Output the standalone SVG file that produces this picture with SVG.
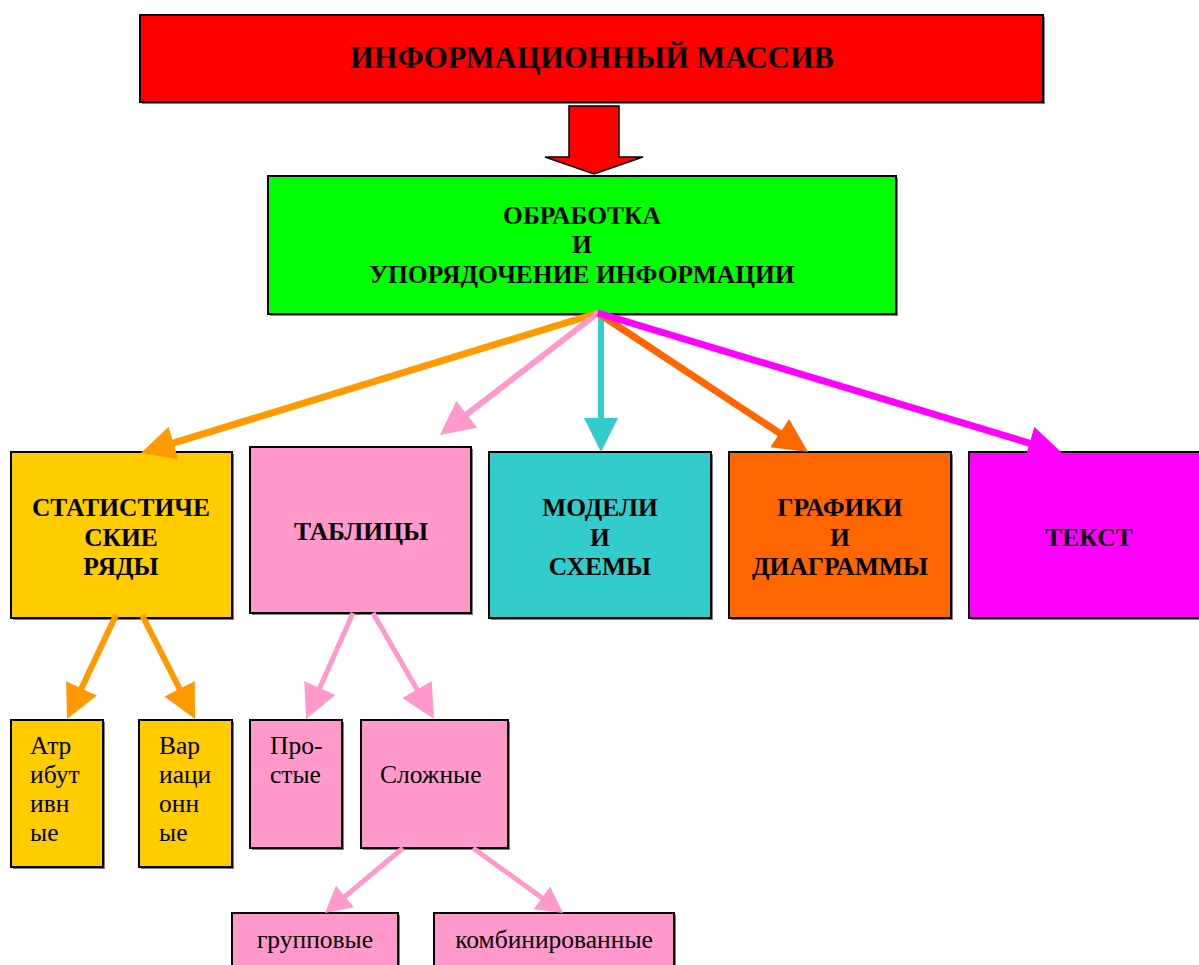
<svg xmlns="http://www.w3.org/2000/svg" width="1199" height="965" viewBox="0 0 1199 965">
<style>
.box{stroke:#000;stroke-width:2}
.sh{fill:#808080}
.tb{font-family:"Liberation Serif","Times New Roman",serif;font-weight:bold;font-size:25.5px;fill:#000;text-anchor:middle}
.tt{font-size:30.5px}
.tr{font-family:"Liberation Serif","Times New Roman",serif;font-size:25.5px;fill:#000}
.mid{text-anchor:middle}
.c line{fill:none}
</style>
<defs>
<marker id="mOr" markerUnits="userSpaceOnUse" markerWidth="34" markerHeight="34" refX="4" refY="17" orient="auto"><path d="M0,0 L34,17 L0,34 z" fill="#FF9900"/></marker>
<marker id="mPk" markerUnits="userSpaceOnUse" markerWidth="34" markerHeight="34" refX="4" refY="17" orient="auto"><path d="M0,0 L34,17 L0,34 z" fill="#FF99CC"/></marker>
<marker id="mCy" markerUnits="userSpaceOnUse" markerWidth="34" markerHeight="34" refX="4" refY="17" orient="auto"><path d="M0,0 L34,17 L0,34 z" fill="#33CCCC"/></marker>
<marker id="mDo" markerUnits="userSpaceOnUse" markerWidth="34" markerHeight="34" refX="4" refY="17" orient="auto"><path d="M0,0 L34,17 L0,34 z" fill="#FF6600"/></marker>
<marker id="mMg" markerUnits="userSpaceOnUse" markerWidth="34" markerHeight="34" refX="4" refY="17" orient="auto"><path d="M0,0 L34,17 L0,34 z" fill="#FF00FF"/></marker>
<marker id="mPs" markerUnits="userSpaceOnUse" markerWidth="28" markerHeight="28" refX="3" refY="14" orient="auto"><path d="M0,0 L26,14 L0,28 z" fill="#FF99CC"/></marker>
</defs>

<g id="n-massiv">
<rect class="sh" x="142" y="17" width="903" height="87"/>
<rect class="box" x="140" y="15" width="903" height="87" fill="#FF0000"/>
<text class="tb tt" x="592" y="68">ИНФОРМАЦИОННЫЙ МАССИВ</text>
</g>

<g id="n-bigarrow">
<path d="M569,106 L619,106 L619,157 L643,157 L594,174 L545,157 L569,157 z" fill="#FF0000" stroke="#000" stroke-width="1.5"/>
</g>

<g id="n-obrabotka">
<rect class="sh" x="270" y="178" width="628" height="138"/>
<rect class="box" x="268" y="176" width="628" height="138" fill="#00FF00"/>
<text class="tb" x="582" y="224">ОБРАБОТКА</text>
<text class="tb" x="582" y="253">И</text>
<text class="tb" x="582" y="283">УПОРЯДОЧЕНИЕ ИНФОРМАЦИИ</text>
</g>

<g id="n-stat">
<rect class="sh" x="13" y="454" width="221" height="166"/>
<rect class="box" x="11" y="452" width="221" height="166" fill="#FFCC00"/>
<text class="tb" x="121" y="516">СТАТИСТИЧЕ</text>
<text class="tb" x="121" y="546">СКИЕ</text>
<text class="tb" x="121" y="575">РЯДЫ</text>
</g>

<g id="n-tabl">
<rect class="sh" x="252" y="449" width="221" height="166"/>
<rect class="box" x="250" y="447" width="221" height="166" fill="#FF99CC"/>
<text class="tb" x="361" y="540">ТАБЛИЦЫ</text>
</g>

<g id="n-model">
<rect class="sh" x="491" y="454" width="222" height="166"/>
<rect class="box" x="489" y="452" width="222" height="166" fill="#33CCCC"/>
<text class="tb" x="600" y="516">МОДЕЛИ</text>
<text class="tb" x="600" y="546">И</text>
<text class="tb" x="600" y="575">СХЕМЫ</text>
</g>

<g id="n-graf">
<rect class="sh" x="731" y="454" width="222" height="166"/>
<rect class="box" x="729" y="452" width="222" height="166" fill="#FF6600"/>
<text class="tb" x="840" y="516">ГРАФИКИ</text>
<text class="tb" x="840" y="546">И</text>
<text class="tb" x="840" y="575">ДИАГРАММЫ</text>
</g>

<g id="n-tekst">
<rect class="sh" x="971" y="454" width="240" height="166"/>
<rect class="box" x="969" y="452" width="240" height="166" fill="#FF00FF"/>
<text class="tb" x="1089" y="546">ТЕКСТ</text>
</g>

<g id="n-atr">
<rect class="sh" x="13" y="722" width="92" height="147"/>
<rect class="box" x="11" y="720" width="92" height="147" fill="#FFCC00"/>
<text class="tr" x="30" y="754">Атр</text>
<text class="tr" x="30" y="783">ибут</text>
<text class="tr" x="30" y="812">ивн</text>
<text class="tr" x="30" y="841">ые</text>
</g>

<g id="n-var">
<rect class="sh" x="141" y="722" width="93" height="147"/>
<rect class="box" x="139" y="720" width="93" height="147" fill="#FFCC00"/>
<text class="tr" x="159" y="754">Вар</text>
<text class="tr" x="159" y="783">иаци</text>
<text class="tr" x="159" y="812">онн</text>
<text class="tr" x="159" y="841">ые</text>
</g>

<g id="n-prost">
<rect class="sh" x="252" y="722" width="92" height="128"/>
<rect class="box" x="250" y="720" width="92" height="128" fill="#FF99CC"/>
<text class="tr" x="270" y="754">Про-</text>
<text class="tr" x="270" y="783">стые</text>
</g>

<g id="n-slozh">
<rect class="sh" x="363" y="722" width="147" height="128"/>
<rect class="box" x="361" y="720" width="147" height="128" fill="#FF99CC"/>
<text class="tr" x="380" y="783">Сложные</text>
</g>

<g id="n-grupp">
<rect class="sh" x="234" y="915" width="166" height="60"/>
<rect class="box" x="232" y="913" width="166" height="60" fill="#FF99CC"/>
<text class="tr mid" x="315" y="948">групповые</text>
</g>

<g id="n-komb">
<rect class="sh" x="436" y="915" width="240" height="60"/>
<rect class="box" x="434" y="913" width="240" height="60" fill="#FF99CC"/>
<text class="tr mid" x="554" y="948">комбинированные</text>
</g>

<g id="connectors" class="c">
<line x1="598" y1="313" x2="169.7" y2="444.2" stroke="#FF9900" stroke-width="7" marker-end="url(#mOr)"/>
<line x1="598" y1="313" x2="463.7" y2="416.7" stroke="#FF99CC" stroke-width="6" marker-end="url(#mPk)"/>
<line x1="601" y1="313" x2="601" y2="422" stroke="#33CCCC" stroke-width="6" marker-end="url(#mCy)"/>
<line x1="598" y1="313" x2="783" y2="435.4" stroke="#FF6600" stroke-width="7" marker-end="url(#mDo)"/>
<line x1="598" y1="313" x2="1033.3" y2="444.3" stroke="#FF00FF" stroke-width="7" marker-end="url(#mMg)"/>
<line x1="116" y1="615" x2="79.8" y2="691.9" stroke="#FF9900" stroke-width="6" marker-end="url(#mOr)"/>
<line x1="142" y1="615" x2="181.4" y2="692.3" stroke="#FF9900" stroke-width="6" marker-end="url(#mOr)"/>
<line x1="353" y1="613" x2="318.2" y2="691.6" stroke="#FF99CC" stroke-width="5" marker-end="url(#mPk)"/>
<line x1="373" y1="613" x2="419" y2="693" stroke="#FF99CC" stroke-width="5" marker-end="url(#mPk)"/>
<line x1="403" y1="848" x2="342.7" y2="898.3" stroke="#FF99CC" stroke-width="5" marker-end="url(#mPs)"/>
<line x1="473" y1="848" x2="544.3" y2="899.5" stroke="#FF99CC" stroke-width="5" marker-end="url(#mPs)"/>
</g>
</svg>
